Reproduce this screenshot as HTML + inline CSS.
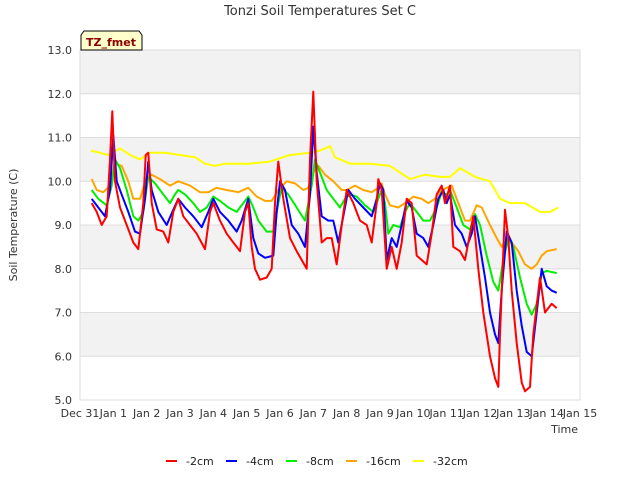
<!DOCTYPE html>
<html><head><meta charset="utf-8"><style>
body{margin:0;background:#fff;font-family:"Liberation Sans","DejaVu Sans",sans-serif;}
svg text{font-family:"DejaVu Sans","Liberation Sans",sans-serif;}
</style></head><body>
<svg id="chart" width="640" height="480" viewBox="0 0 640 480" xmlns="http://www.w3.org/2000/svg">
<text x="320" y="15" text-anchor="middle" font-size="13" fill="#333">Tonzi Soil Temperatures Set C</text>
<g id="bands"></g>
<g id="grid"></g>
<g id="series"></g>
<g id="yaxis"></g>
<g id="xaxis"></g>
<text transform="translate(17,225) rotate(-90)" text-anchor="middle" font-size="11" fill="#333">Soil Temperature (C)</text>
<text x="578" y="433" text-anchor="end" font-size="11" fill="#333">Time</text>
<g>
<path d="M81,50 L81,35 L84,31 L139,31 L142,35 L142,50 Z" fill="#ffffcc" stroke="#000" stroke-width="1"/>
<text x="111" y="46" text-anchor="middle" font-size="11" font-weight="bold" fill="#8b0000">TZ_fmet</text>
</g>
<g id="legend"></g>
</svg>
<script>
const xTickLabels=["Dec 31","Jan 1","Jan 2","Jan 3","Jan 4","Jan 5","Jan 6","Jan 7","Jan 8","Jan 9","Jan 10","Jan 11","Jan 12","Jan 13","Jan 14","Jan 15"];
const yTicks=[5,6,7,8,9,10,11,12,13];
const seriesNames=["-2cm","-4cm","-8cm","-16cm","-32cm"];
const seriesColors=["#ff0000","#0000ff","#00ee00","#ffa500","#ffff00"];
const t2=[0.35,0.5,0.65,0.8,0.9,0.97,1.05,1.2,1.4,1.6,1.75,1.9,1.97,2.05,2.15,2.3,2.5,2.65,2.8,2.95,3.1,3.3,3.5,3.75,3.9,4.0,4.2,4.4,4.6,4.8,4.95,5.05,5.15,5.25,5.4,5.6,5.75,5.85,5.95,6.1,6.3,6.5,6.65,6.8,6.9,7.0,7.1,7.25,7.4,7.55,7.7,7.85,8.0,8.2,8.4,8.6,8.75,8.9,8.95,9.05,9.2,9.35,9.5,9.65,9.8,9.95,10.1,10.25,10.4,10.55,10.7,10.85,10.95,11.1,11.2,11.4,11.55,11.7,11.8,11.95,12.1,12.3,12.45,12.55,12.6,12.75,12.85,12.95,13.1,13.25,13.35,13.5,13.6,13.8,13.95,14.05,14.15,14.3];
const v2=[9.5,9.3,9.0,9.2,10.5,11.6,10.0,9.4,9.0,8.6,8.45,9.5,10.6,10.65,9.5,8.9,8.85,8.6,9.3,9.6,9.2,9.0,8.8,8.45,9.3,9.5,9.1,8.8,8.6,8.4,9.3,9.5,8.5,8.0,7.75,7.8,8.0,9.5,10.45,9.6,8.7,8.4,8.2,8.0,10.5,12.05,10.0,8.6,8.7,8.7,8.1,9.0,9.8,9.5,9.1,9.0,8.6,9.5,10.05,9.8,8.0,8.5,8.0,8.6,9.6,9.5,8.3,8.2,8.1,8.8,9.7,9.9,9.5,9.9,8.5,8.4,8.2,8.8,9.2,8.0,7.0,6.0,5.5,5.3,6.5,9.35,8.7,7.5,6.3,5.4,5.2,5.3,6.5,7.8,7.0,7.1,7.2,7.1];
const t4=[0.35,0.55,0.75,0.9,1.0,1.1,1.3,1.45,1.65,1.8,1.95,2.05,2.15,2.35,2.6,2.8,2.95,3.15,3.4,3.65,3.85,4.0,4.2,4.45,4.7,4.85,5.05,5.2,5.35,5.55,5.8,5.9,6.0,6.15,6.35,6.55,6.75,6.9,7.0,7.1,7.25,7.45,7.6,7.75,7.9,8.05,8.25,8.5,8.75,8.9,9.0,9.1,9.2,9.35,9.5,9.65,9.8,9.95,10.1,10.3,10.45,10.6,10.75,10.9,11.0,11.1,11.25,11.45,11.6,11.75,11.85,12.0,12.15,12.3,12.45,12.55,12.65,12.8,12.95,13.1,13.25,13.4,13.55,13.7,13.85,14.0,14.15,14.3];
const v4=[9.6,9.4,9.2,9.8,11.05,10.0,9.6,9.3,8.85,8.8,9.6,10.45,9.8,9.3,9.0,9.35,9.6,9.4,9.2,8.95,9.3,9.6,9.3,9.1,8.85,9.1,9.6,8.7,8.35,8.25,8.3,9.3,10.0,9.8,9.0,8.8,8.5,9.7,11.25,10.2,9.2,9.1,9.1,8.6,9.2,9.8,9.6,9.4,9.2,9.6,9.95,9.8,8.2,8.7,8.5,9.0,9.55,9.4,8.8,8.7,8.5,9.0,9.6,9.8,9.5,9.7,9.0,8.8,8.5,8.8,9.2,8.5,7.8,7.0,6.5,6.3,7.5,8.85,8.6,7.5,6.7,6.1,6.0,7.0,8.0,7.6,7.5,7.45];
const t8=[0.35,0.55,0.8,0.95,1.05,1.2,1.4,1.6,1.75,1.9,2.05,2.25,2.5,2.7,2.85,2.95,3.15,3.4,3.6,3.8,4.0,4.2,4.45,4.7,4.9,5.05,5.2,5.35,5.6,5.8,5.95,6.05,6.25,6.5,6.75,6.95,7.05,7.2,7.4,7.6,7.8,7.95,8.1,8.3,8.55,8.8,8.95,9.05,9.15,9.25,9.4,9.6,9.75,9.9,10.1,10.3,10.5,10.7,10.85,11.0,11.1,11.3,11.5,11.7,11.85,12.0,12.2,12.4,12.55,12.7,12.85,13.0,13.2,13.4,13.55,13.7,13.85,14.0,14.3];
const v8=[9.8,9.6,9.45,9.9,10.5,10.3,9.8,9.2,9.1,9.3,10.1,9.95,9.7,9.5,9.7,9.8,9.7,9.5,9.3,9.4,9.65,9.55,9.4,9.3,9.5,9.65,9.4,9.1,8.85,8.85,9.5,9.85,9.7,9.4,9.1,9.9,10.5,10.2,9.8,9.6,9.4,9.6,9.7,9.65,9.45,9.3,9.6,9.8,9.5,8.8,9.0,8.95,9.3,9.5,9.3,9.1,9.1,9.4,9.75,9.7,9.8,9.4,9.0,8.9,9.25,9.0,8.3,7.7,7.5,8.2,8.7,8.5,7.8,7.2,6.95,7.2,7.9,7.95,7.9];
const t16=[0.35,0.5,0.7,0.9,1.05,1.25,1.45,1.6,1.8,2.0,2.15,2.4,2.7,2.95,3.3,3.6,3.85,4.1,4.4,4.75,5.05,5.3,5.55,5.75,5.95,6.2,6.45,6.7,6.85,7.0,7.15,7.35,7.6,7.85,8.0,8.25,8.5,8.75,8.95,9.05,9.15,9.3,9.55,9.75,10.0,10.25,10.45,10.65,10.85,11.0,11.15,11.35,11.55,11.7,11.9,12.05,12.3,12.5,12.65,12.8,12.95,13.15,13.35,13.55,13.7,13.85,14.0,14.3];
const v16=[10.05,9.8,9.75,9.9,10.4,10.35,10.0,9.6,9.6,10.1,10.15,10.05,9.9,10.0,9.9,9.75,9.75,9.85,9.8,9.75,9.85,9.65,9.55,9.55,9.8,10.0,9.95,9.8,9.85,10.2,10.35,10.15,10.0,9.8,9.8,9.9,9.8,9.75,9.85,9.95,9.7,9.45,9.4,9.5,9.65,9.6,9.5,9.6,9.8,9.85,9.9,9.5,9.1,9.1,9.45,9.4,9.0,8.7,8.5,8.65,8.6,8.4,8.1,8.0,8.1,8.3,8.4,8.45];
const t32=[0.33,0.6,0.85,1.2,1.5,1.8,2.1,2.55,3.0,3.45,3.75,4.05,4.35,5.1,5.7,6.3,6.9,7.2,7.5,7.65,8.1,8.7,9.3,9.6,9.9,10.35,10.8,11.1,11.4,11.85,12.3,12.6,12.9,13.35,13.8,14.1,14.35];
const v32=[10.7,10.65,10.6,10.75,10.6,10.5,10.65,10.65,10.6,10.55,10.4,10.35,10.4,10.4,10.45,10.6,10.65,10.7,10.8,10.55,10.4,10.4,10.35,10.2,10.05,10.15,10.1,10.1,10.3,10.1,10.0,9.6,9.5,9.5,9.3,9.3,9.4];

const X0=80,X1=580,Y0=50,Y1=400,DAYS=15,YMIN=5,YMAX=13;
const xs=d=>X0+(d/DAYS)*(X1-X0);
const ys=v=>Y1-(v-YMIN)/(YMAX-YMIN)*(Y1-Y0);
const NS="http://www.w3.org/2000/svg";
function mk(tag,attrs,parent){const e=document.createElementNS(NS,tag);for(const k in attrs)e.setAttribute(k,attrs[k]);parent.appendChild(e);return e;}
const bands=document.getElementById('bands');
for(let i=0;i<yTicks.length-1;i++){
  const r=mk('rect',{x:X0,y:ys(yTicks[i+1]),width:X1-X0,height:ys(yTicks[i])-ys(yTicks[i+1]),fill:(i%2===1)?'#f2f2f2':'#ffffff'},bands);
  
  
}
mk('rect',{x:X0,y:Y0,width:X1-X0,height:Y1-Y0,fill:'none',stroke:'#ddd'},bands);
const grid=document.getElementById('grid'),ya=document.getElementById('yaxis'),xa=document.getElementById('xaxis');
yTicks.forEach(v=>{
  const l=mk('line',{x1:X0,x2:X1,y1:ys(v),y2:ys(v),stroke:'#ddd'},grid);
  
  
  const t=mk('text',{x:X0-8,y:ys(v)+4,'text-anchor':'end','font-size':'11',fill:'#333'},ya);
  t.textContent=v.toFixed(1);
  
  
});
xTickLabels.forEach((lab,i)=>{
  const t=mk('text',{x:xs(i),y:Y1+17,'text-anchor':'middle','font-size':'11',fill:'#333'},xa);
  t.textContent=lab;
  
  
});
const sg=document.getElementById('series');
const allT=[t2,t4,t8,t16,t32],allV=[v2,v4,v8,v16,v32];
[4,3,2,1,0].forEach(i=>{
  const d=allT[i].map((t,j)=>(j?'L':'M')+xs(t).toFixed(1)+','+ys(allV[i][j]).toFixed(1)).join(' ');
  const p=mk('path',{d:d,fill:'none',stroke:seriesColors[i],'stroke-width':'2','stroke-linejoin':'round'},sg);
  
  
});
const lg=document.getElementById('legend');
const lx=[166,226,286,346,413];
seriesNames.forEach((n,i)=>{
  const g=mk('g',{},lg);
  
  
  mk('line',{x1:lx[i],x2:lx[i]+11,y1:461,y2:461,stroke:seriesColors[i],'stroke-width':'2'},g);
  const t=mk('text',{x:lx[i]+20,y:465,'font-size':'11',fill:'#222'},g);
  t.textContent=n;
});
</script>
</body></html>
